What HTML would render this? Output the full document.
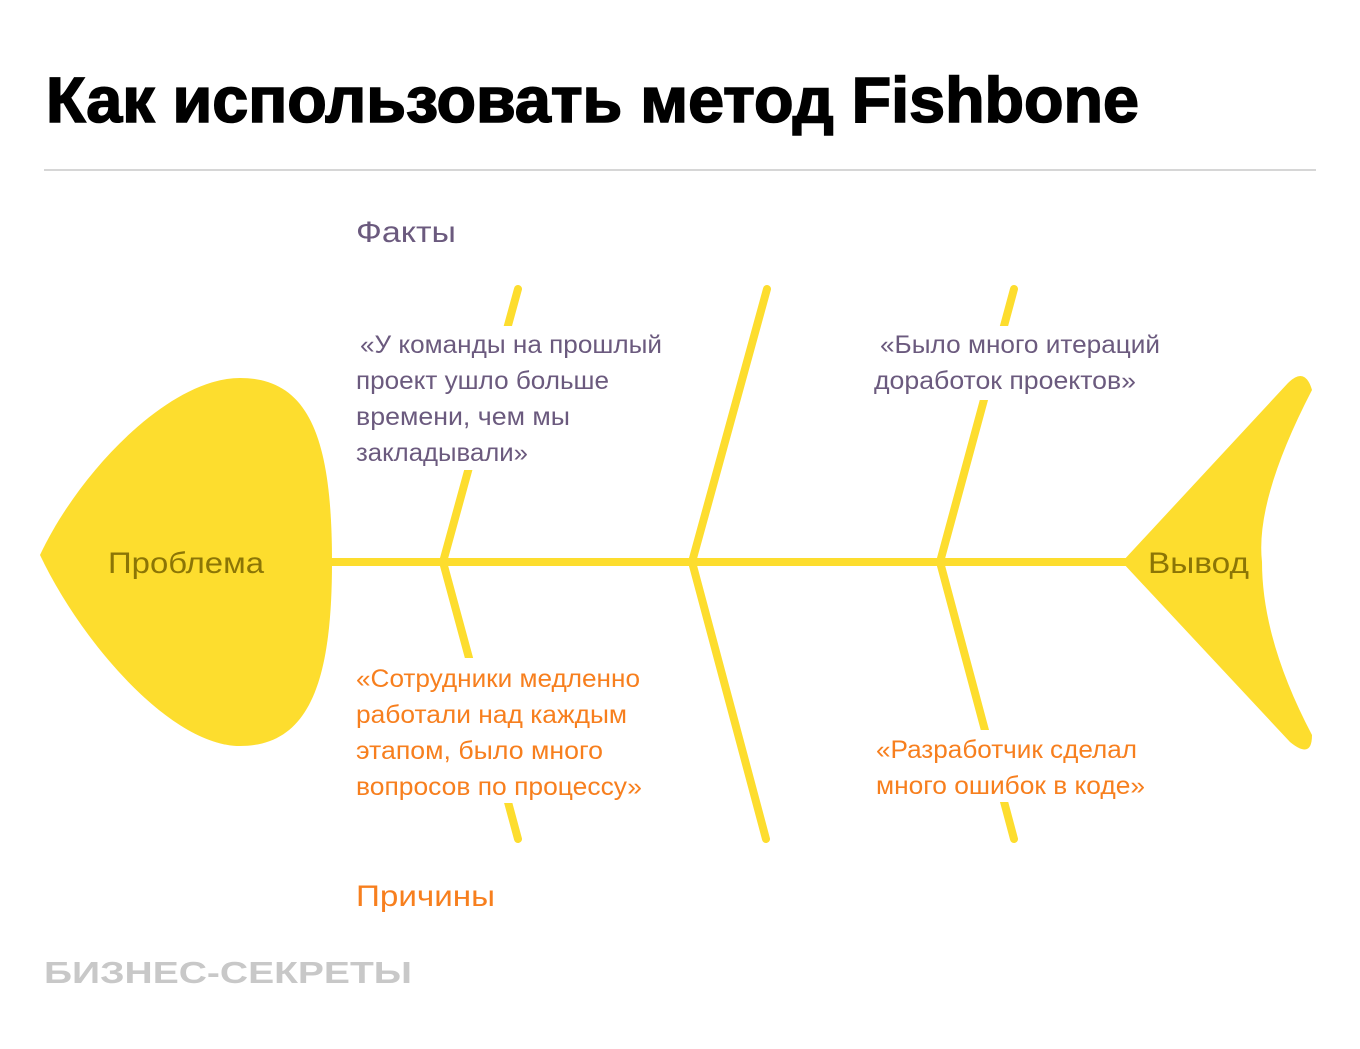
<!DOCTYPE html>
<html><head><meta charset="utf-8"><style>html,body{margin:0;padding:0;background:#fff}svg{display:block}</style></head>
<body>
<svg width="1360" height="1049" viewBox="0 0 1360 1049" xmlns="http://www.w3.org/2000/svg" font-family="'Liberation Sans', sans-serif">
<text x="46" y="122" font-size="64" font-weight="bold" fill="#000" stroke="#000" stroke-width="1.6" textLength="1093" lengthAdjust="spacingAndGlyphs">Как использовать метод Fishbone</text>
<line x1="44" y1="170" x2="1316" y2="170" stroke="#c8c8c8" stroke-width="1.5"/>
<g stroke="#FDDD2E" stroke-width="8" stroke-linecap="round" fill="none">
<line x1="330" y1="562" x2="1130" y2="562"/>
<line x1="443" y1="562" x2="518" y2="289"/>
<line x1="692" y1="562" x2="767" y2="289"/>
<line x1="940" y1="562" x2="1014" y2="289"/>
<line x1="443" y1="562" x2="518" y2="839"/>
<line x1="692" y1="562" x2="766" y2="839"/>
<line x1="940" y1="562" x2="1014" y2="839"/>
</g>
<path fill="#FDDD2E" d="M40 555 C80 470 170 378 240 378 C310 378 332 440 332 562 C332 680 310 746 240 746 C170 746 80 640 40 555 Z"/>
<path fill="#FDDD2E" d="M1122 562 L1288 383 Q1305 366 1312 390 Q1255 500 1262 562 Q1262 640 1312 735 Q1312 760 1290 742 Z"/>
<rect x="350" y="326" width="320" height="144" fill="#fff"/>
<rect x="350" y="658" width="300" height="145" fill="#fff"/>
<rect x="868" y="326" width="300" height="74" fill="#fff"/>
<rect x="868" y="730" width="285" height="72" fill="#fff"/>
<g font-size="25" fill="#6B5A7E">
<text x="356" y="242" font-size="30" textLength="100" lengthAdjust="spacingAndGlyphs">Факты</text>
<text x="360" y="353" textLength="302" lengthAdjust="spacingAndGlyphs">«У команды на прошлый</text>
<text x="356" y="389" textLength="253" lengthAdjust="spacingAndGlyphs">проект ушло больше</text>
<text x="356" y="425" textLength="214" lengthAdjust="spacingAndGlyphs">времени, чем мы</text>
<text x="356" y="461" textLength="172" lengthAdjust="spacingAndGlyphs">закладывали»</text>
<text x="880" y="353" textLength="280" lengthAdjust="spacingAndGlyphs">«Было много итераций</text>
<text x="874" y="389" textLength="262" lengthAdjust="spacingAndGlyphs">доработок проектов»</text>
</g>
<g font-size="25" fill="#F77F1E">
<text x="356" y="906" font-size="30" textLength="139" lengthAdjust="spacingAndGlyphs">Причины</text>
<text x="356" y="687" textLength="284" lengthAdjust="spacingAndGlyphs">«Сотрудники медленно</text>
<text x="356" y="723" textLength="271" lengthAdjust="spacingAndGlyphs">работали над каждым</text>
<text x="356" y="759" textLength="247" lengthAdjust="spacingAndGlyphs">этапом, было много</text>
<text x="356" y="795" textLength="286" lengthAdjust="spacingAndGlyphs">вопросов по процессу»</text>
<text x="876" y="758" textLength="261" lengthAdjust="spacingAndGlyphs">«Разработчик сделал</text>
<text x="876" y="794" textLength="269" lengthAdjust="spacingAndGlyphs">много ошибок в коде»</text>
</g>
<g font-size="30" fill="#8B7506">
<text x="108" y="573" textLength="156" lengthAdjust="spacingAndGlyphs">Проблема</text>
<text x="1148" y="573" textLength="101" lengthAdjust="spacingAndGlyphs">Вывод</text>
</g>
<text x="44" y="983" font-size="31" font-weight="bold" fill="#c8c8c8" textLength="368" lengthAdjust="spacingAndGlyphs">БИЗНЕС-СЕКРЕТЫ</text>
</svg>
</body></html>
